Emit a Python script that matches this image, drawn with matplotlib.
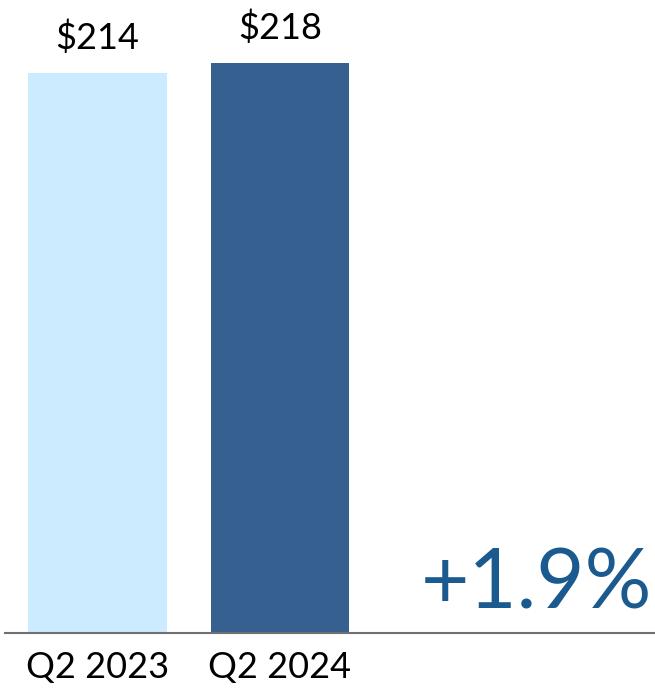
import matplotlib
matplotlib.use('Agg')
import matplotlib.pyplot as plt

quarters = ['Q2 2023', 'Q2 2024']
values = [214, 218]
value_labels = ['$214', '$218']
change_label = '+1.9%'
colors = ['#CDEBFE', '#36608F']

plt.rcParams['font.family'] = ['Lato', 'DejaVu Sans']

fig = plt.figure(figsize=(6.55, 6.95), dpi=100)
ax = fig.add_axes([5 / 655, 62 / 695, 650 / 655, 633 / 695])

x = range(len(values))
ax.bar(x, values, width=0.76, color=colors)
for i, v in enumerate(values):
    ax.text(i, v + 7, value_labels[i], ha='center', va='bottom', fontsize=26, color='black')

ax.set_xlim(-0.507, 3.055)
ax.set_ylim(0, 242.1)
ax.set_xticks(list(x))
ax.set_xticklabels(quarters, fontsize=26)
ax.tick_params(axis='x', length=0, pad=13)
ax.set_yticks([])
for s in ['top', 'right', 'left']:
    ax.spines[s].set_visible(False)
ax.spines['bottom'].set_color('#707070')
ax.spines['bottom'].set_linewidth(1.5)

ax.text(0.818, 0.015, change_label, transform=ax.transAxes, ha='center', va='bottom',
        fontsize=60, color='#1B5A8F')

fig.savefig('out.png', dpi=100)
